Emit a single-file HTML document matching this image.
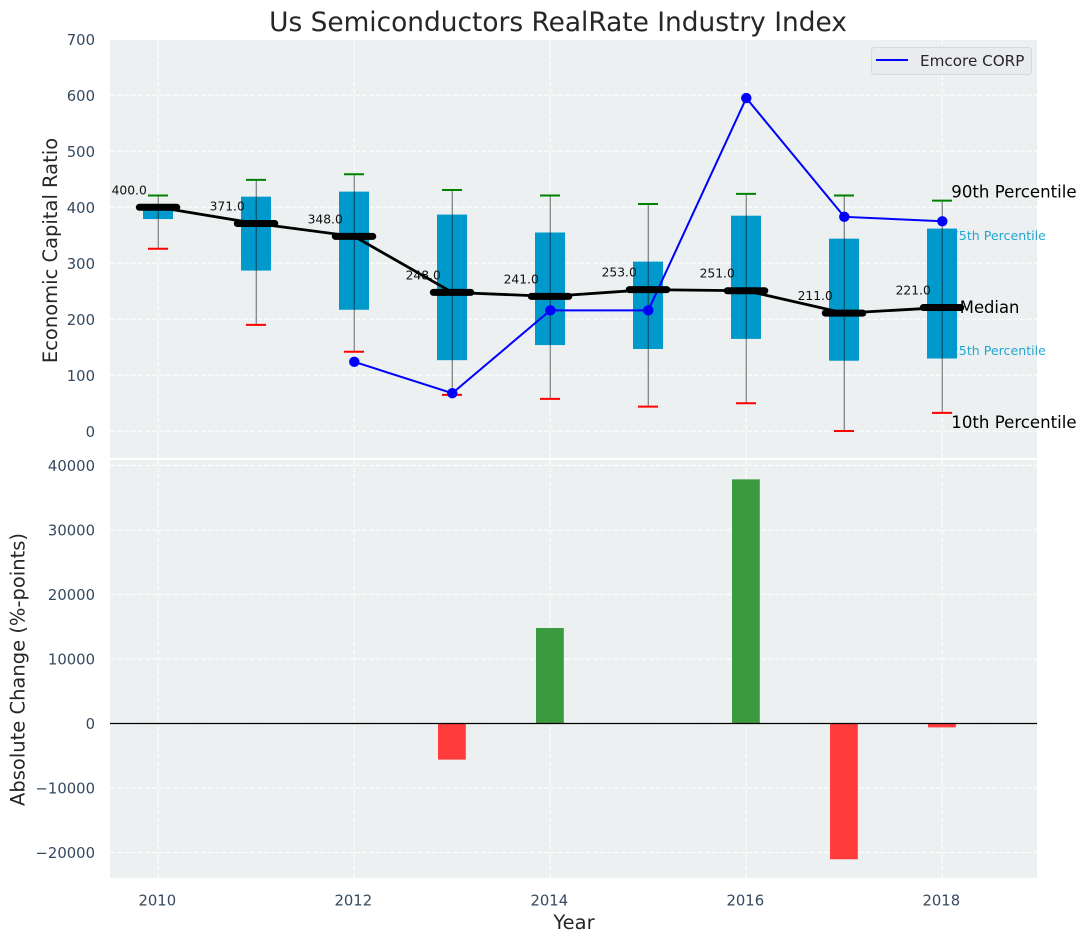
<!DOCTYPE html>
<html>
<head>
<meta charset="utf-8">
<title>Us Semiconductors RealRate Industry Index</title>
<style>
html,body{margin:0;padding:0;background:#fff;}
svg{display:block;}
text{font-family:"DejaVu Sans","Liberation Sans",sans-serif;}
</style>
</head>
<body>
<svg id="chart" width="1086" height="942" viewBox="0 0 1086 942" xmlns="http://www.w3.org/2000/svg"></svg>
<script>
const years = [2010, 2011, 2012, 2013, 2014, 2015, 2016, 2017, 2018];
const p90 = [421, 449, 459, 431, 421, 406, 424, 421, 412];
const p75 = [400, 419, 428, 387, 355, 303, 385, 344, 362];
const medians = [400, 371, 348, 248, 241, 253, 251, 211, 221];
const p25 = [379, 287, 217, 127, 154, 147, 165, 126, 130];
const p10 = [326, 190, 142, 65, 58, 44, 50, 0.5, 33];
const emcore = [null, null, 124, 68, 216, 216, 595, 383, 375];
const changes = [null, null, null, -5600, 14800, 0, 37850, -21050, -600];
const topTicks = [0, 100, 200, 300, 400, 500, 600, 700];
const bottomTicks = [-20000, -10000, 0, 10000, 20000, 30000, 40000];
const xTicks = [2010, 2012, 2014, 2016, 2018];
const seriesName = 'Emcore CORP';

const svg = document.getElementById('chart');
const NS = 'http://www.w3.org/2000/svg';
const L = 110, R = 1037;
const T1 = 40, B1 = 458, T2 = 460, B2 = 878;
const x = v => 158.3 + (v - 2010) * 98;
const y1 = v => 431.3 - v * 0.56;
const y2 = v => 723.5 - v * 0.00645;

function mk(tag, attrs, text, parent) {
  const el = document.createElementNS(NS, tag);
  for (const k in attrs) el.setAttribute(k, attrs[k]);
  if (text !== undefined && text !== null) el.textContent = text;
  (parent || svg).appendChild(el);
  return el;
}

const tickColor = '#34495e';
const textColor = '#262626';

// Panels
let el = mk('rect', {x: L, y: T1, width: R - L, height: B1 - T1, fill: '#ecf0f1'});


el = mk('rect', {x: L, y: T2, width: R - L, height: B2 - T2, fill: '#ecf0f1'});



// Grid
const gridStyle = {stroke: '#ffffff', 'stroke-width': 1.2, 'stroke-dasharray': '5 2', opacity: 0.9};
xTicks.forEach(t => {
  let g = mk('line', Object.assign({x1: x(t), x2: x(t), y1: T1, y2: B1}, gridStyle));
  
  
  g = mk('line', Object.assign({x1: x(t), x2: x(t), y1: T2, y2: B2}, gridStyle));
  
  
  const lab = mk('text', {x: x(t) - 1, y: 905.3, 'text-anchor': 'middle', 'font-size': 14.8, fill: tickColor}, String(t));
  
  
});
topTicks.forEach(t => {
  if (t < 700) {
    const g = mk('line', Object.assign({x1: L, x2: R, y1: y1(t), y2: y1(t)}, gridStyle));
    
    
  }
  const lab = mk('text', {x: 95, y: y1(t) + 5.8, 'text-anchor': 'end', 'font-size': 14.8, fill: tickColor}, String(t));
  
  
});
bottomTicks.forEach(t => {
  const g = mk('line', Object.assign({x1: L, x2: R, y1: y2(t), y2: y2(t)}, gridStyle));
  
  
  const txt = t < 0 ? '\u2212' + Math.abs(t) : String(t);
  const lab = mk('text', {x: 95, y: y2(t) + 5.5, 'text-anchor': 'end', 'font-size': 14.8, fill: tickColor}, txt);
  
  
});

// Percentile annotations placed relative to last year's values
const last = years.length - 1;
const lx = x(years[last]);
el = mk('text', {x: lx + 8.5, y: y1(p75[last]) + 11.5, 'font-size': 12.6, fill: '#0099cc', opacity: 0.85}, '75th Percentile');


el = mk('text', {x: lx + 8.5, y: y1(p25[last]) - 3.5, 'font-size': 12.6, fill: '#0099cc', opacity: 0.85}, '25th Percentile');



// Boxes
years.forEach((yr, i) => {
  const b = mk('rect', {x: x(yr) - 15.3, y: y1(p75[i]), width: 30, height: y1(p25[i]) - y1(p75[i]), fill: '#0099cc'});
  
  
});

// Median values text
years.forEach((yr, i) => {
  const t = mk('text', {x: x(yr) - 11.5, y: y1(medians[i]) - 13, 'text-anchor': 'end', 'font-size': 12.3, fill: '#111'}, medians[i].toFixed(1));
  
  
});

// Median line
el = mk('polyline', {points: years.map((yr, i) => x(yr) + ',' + y1(medians[i])).join(' '), fill: 'none', stroke: '#000', 'stroke-width': 2.8});



// Emcore series
const emPts = years.map((yr, i) => emcore[i] === null ? null : [x(yr), y1(emcore[i])]).filter(Boolean);
el = mk('polyline', {points: emPts.map(p => p.join(',')).join(' '), fill: 'none', stroke: '#0000ff', 'stroke-width': 2});



// Whiskers and caps
years.forEach((yr, i) => {
  const cx = x(yr);
  const w = mk('line', {x1: cx, x2: cx, y1: y1(p90[i]), y2: y1(p10[i]), stroke: '#000', 'stroke-opacity': 0.45, 'stroke-width': 1.3});
  
  
  const top = mk('line', {x1: cx - 10.3, x2: cx + 9.7, y1: y1(p90[i]), y2: y1(p90[i]), stroke: '#008000', 'stroke-width': 2});
  
  
  const bot = mk('line', {x1: cx - 10.3, x2: cx + 9.7, y1: y1(p10[i]), y2: y1(p10[i]), stroke: '#ff0000', 'stroke-width': 2});
  
  
  const med = mk('line', {x1: cx - 19, x2: cx + 18.5, y1: y1(medians[i]), y2: y1(medians[i]), stroke: '#000', 'stroke-width': 7, 'stroke-linecap': 'round'});
  
  
});

// Emcore markers
years.forEach((yr, i) => {
  if (emcore[i] === null) return;
  const c = mk('circle', {cx: x(yr), cy: y1(emcore[i]), r: 5.2, fill: '#0000ff'});
  
  
});

// Right side labels
el = mk('text', {x: lx + 9, y: y1(p90[last]) - 3, 'font-size': 16.6, fill: '#000'}, '90th Percentile');


el = mk('text', {x: lx + 17.5, y: y1(medians[last]) + 5.5, 'font-size': 16.4, fill: '#000'}, 'Median');


el = mk('text', {x: lx + 9, y: y1(p10[last]) + 15, 'font-size': 16.6, fill: '#000'}, '10th Percentile');



// Change bars
years.forEach((yr, i) => {
  const v = changes[i];
  if (v === null || v === 0) return;
  const top = Math.min(y2(v), y2(0));
  const h = Math.abs(y2(v) - y2(0));
  const b = mk('rect', {x: x(yr) - 14.3, y: top, width: 27.8, height: h, fill: v >= 0 ? '#3a9a3e' : '#ff3b3b'});
  
  
});
el = mk('line', {x1: L, x2: R, y1: y2(0), y2: y2(0), stroke: '#000', 'stroke-width': 1.2});



// Legend
const lg = mk('g', {});


el = mk('rect', {x: 871.5, y: 47.5, width: 160, height: 27, rx: 3, fill: '#e9ebef', stroke: '#d6d8da', 'stroke-width': 1}, null, lg);


el = mk('line', {x1: 876, x2: 908, y1: 60, y2: 60, stroke: '#0000ff', 'stroke-width': 2}, null, lg);


el = mk('text', {x: 920, y: 66, 'font-size': 15.2, fill: textColor}, seriesName, lg);



// Titles
el = mk('text', {x: 558, y: 31, 'text-anchor': 'middle', 'font-size': 26.4, fill: textColor}, 'Us Semiconductors RealRate Industry Index');


el = mk('text', {transform: 'translate(57,250.5) rotate(-90)', 'text-anchor': 'middle', 'font-size': 19.5, fill: textColor}, 'Economic Capital Ratio');


el = mk('text', {transform: 'translate(24.5,669.5) rotate(-90)', 'text-anchor': 'middle', 'font-size': 19.5, fill: textColor}, 'Absolute Change (%-points)');


el = mk('text', {x: 574, y: 929, 'text-anchor': 'middle', 'font-size': 19.5, fill: textColor}, 'Year');


</script>
</body>
</html>
